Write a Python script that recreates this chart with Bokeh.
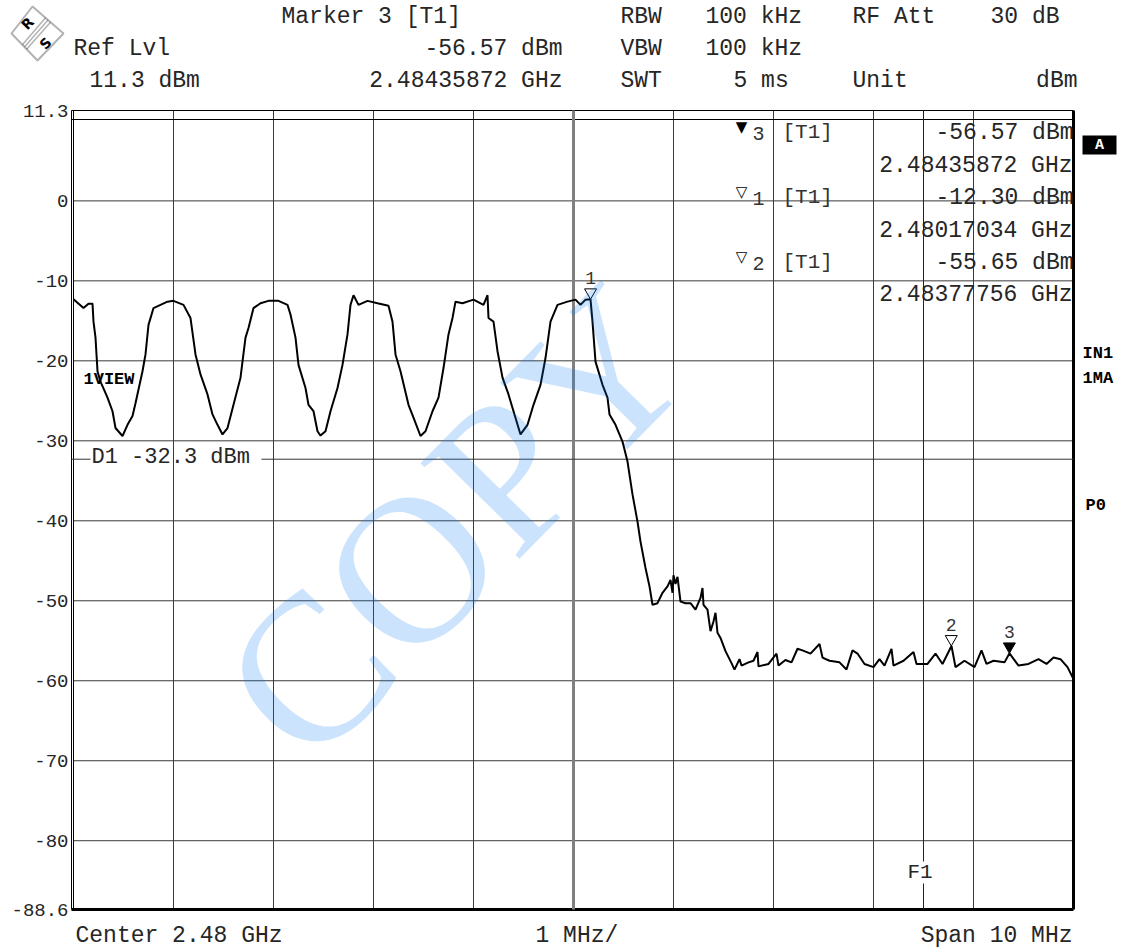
import math
from bokeh.plotting import figure
from bokeh.models import Range1d, FixedTicker, Label, BoxAnnotation, PolyAnnotation
from bokeh.embed import file_html
from bokeh.resources import INLINE

# ---------------- data ----------------
trace_freq_mhz = [
    2475.00, 2475.10, 2475.15, 2475.19, 2475.20, 2475.22, 2475.24, 2475.27, 2475.34, 2475.39,
    2475.42, 2475.49, 2475.54, 2475.59, 2475.62, 2475.69, 2475.72, 2475.75, 2475.80, 2475.87,
    2475.94, 2476.00, 2476.10, 2476.17, 2476.22, 2476.27, 2476.34, 2476.39, 2476.44, 2476.49,
    2476.54, 2476.60, 2476.67, 2476.72, 2476.75, 2476.80, 2476.87, 2476.95, 2477.05, 2477.14,
    2477.17, 2477.22, 2477.25, 2477.32, 2477.35, 2477.40, 2477.44, 2477.47, 2477.52, 2477.57,
    2477.64, 2477.69, 2477.74, 2477.77, 2477.80, 2477.85, 2477.94, 2478.04, 2478.15, 2478.19,
    2478.22, 2478.27, 2478.35, 2478.40, 2478.47, 2478.52, 2478.59, 2478.65, 2478.70, 2478.75,
    2478.79, 2478.82, 2478.89, 2479.00, 2479.10, 2479.14, 2479.15, 2479.20, 2479.24, 2479.29,
    2479.35, 2479.40, 2479.47, 2479.54, 2479.60, 2479.67, 2479.72, 2479.77, 2479.84, 2479.94,
    2480.02, 2480.07, 2480.12, 2480.17, 2480.19, 2480.22, 2480.29, 2480.34, 2480.36, 2480.42,
    2480.49, 2480.54, 2480.59, 2480.64, 2480.67, 2480.72, 2480.76, 2480.79, 2480.84, 2480.89,
    2480.94, 2480.97, 2480.99, 2481.00, 2481.02, 2481.04, 2481.07, 2481.12, 2481.17, 2481.22,
    2481.27, 2481.29, 2481.30, 2481.34, 2481.37, 2481.40, 2481.42, 2481.44, 2481.47, 2481.52,
    2481.58, 2481.61, 2481.66, 2481.68, 2481.75, 2481.80, 2481.84, 2481.85, 2481.95, 2482.03,
    2482.05, 2482.12, 2482.18, 2482.24, 2482.29, 2482.37, 2482.46, 2482.49, 2482.56, 2482.66,
    2482.73, 2482.79, 2482.84, 2482.91, 2483.00, 2483.06, 2483.11, 2483.18, 2483.20, 2483.30,
    2483.40, 2483.43, 2483.54, 2483.62, 2483.69, 2483.78, 2483.82, 2483.91, 2484.01, 2484.08,
    2484.13, 2484.20, 2484.31, 2484.36, 2484.45, 2484.55, 2484.65, 2484.73, 2484.80, 2484.87,
    2484.94, 2485.00,
]
trace_level_dbm = [
    -12.3, -13.4, -12.85, -12.85, -15.1, -17.1, -21.3, -22.6, -24.6, -26.3,
    -28.4, -29.4, -28.0, -26.9, -25.3, -21.3, -19.2, -15.5, -13.4, -13.0,
    -12.6, -12.5, -13.0, -14.65, -19.2, -21.7, -24.2, -26.7, -28.0, -29.2,
    -28.4, -25.5, -22.1, -17.1, -15.9, -13.4, -12.8, -12.5, -12.5, -13.0,
    -14.2, -17.1, -20.5, -23.4, -25.5, -26.3, -28.8, -29.35, -28.8, -26.3,
    -23.4, -20.5, -16.7, -13.0, -11.8, -13.0, -12.5, -12.8, -13.1, -15.1,
    -19.2, -21.3, -25.5, -27.1, -29.4, -28.8, -26.3, -24.6, -20.9, -16.7,
    -14.65, -12.6, -12.8, -12.35, -13.0, -11.8, -14.65, -15.1, -18.8, -22.1,
    -24.2, -26.3, -29.2, -28.0, -25.5, -23.0, -19.65, -15.1, -13.0, -12.6,
    -12.35, -13.0, -12.35, -12.3, -15.1, -20.1, -23.0, -24.6, -26.7, -28.0,
    -30.1, -32.6, -36.7, -40.1, -42.6, -45.9, -48.2, -50.5, -50.3, -49.0,
    -48.2, -47.4, -49.0, -46.8, -47.9, -47.0, -50.1, -50.3, -50.3, -51.1,
    -49.65, -48.4, -50.5, -51.1, -53.8, -52.6, -51.5, -54.0, -54.65, -56.3,
    -57.8, -58.6, -57.3, -58.1, -57.7, -57.5, -56.4, -58.2, -57.9, -56.6,
    -58.1, -57.4, -57.7, -56.0, -56.2, -56.6, -55.4, -57.1, -57.5, -57.7,
    -58.6, -56.2, -56.6, -57.9, -58.3, -57.3, -58.1, -56.0, -58.1, -57.5,
    -56.4, -57.9, -57.9, -56.6, -57.9, -55.65, -58.3, -57.5, -58.3, -56.2,
    -57.9, -57.5, -57.7, -56.57, -58.1, -57.9, -57.3, -57.9, -57.1, -57.3,
    -58.3, -59.8,
]
marker_ids = [1, 2, 3]
marker_freq_ghz = [2.48017034, 2.48377756, 2.48435872]
marker_level_dbm = [-12.30, -55.65, -56.57]
marker_filled = [False, False, True]
marker_table_order = [3, 1, 2]

y_ticks = [11.3, 0, -10, -20, -30, -40, -50, -60, -70, -80, -88.6]
y_tick_labels = ["11.3", "0", "-10", "-20", "-30", "-40", "-50", "-60", "-70", "-80", "-88.6"]
y_grid_dbm = [0, -10, -20, -30, -40, -50, -60, -70, -80]
x_grid_mhz = [2476, 2477, 2478, 2479, 2480, 2481, 2482, 2483, 2484]

ref_level_dbm = 11.3
bottom_level_dbm = -88.6
start_mhz, stop_mhz = 2475.0, 2485.0
center_ghz = 2.48
span_mhz = 10
div_mhz = 1
display_line_dbm = -32.3
freq_line_mhz = 2483.5
rbw_khz, vbw_khz, swt_ms, rf_att_db = 100, 100, 5, 30

# ---------------- pixel <-> data helpers (for text placement) ----------------
W, H = 1128, 952
FL, FR, FT, FB = 71, 1073, 110, 909          # graticule box in pixels
X0, X1 = start_mhz - 0.02, stop_mhz           # graticule box in data units
Y0, Y1 = bottom_level_dbm, ref_level_dbm
PX_PER_MHZ = (FR - FL) / (X1 - X0)
PX_PER_DB = (FB - FT) / (Y1 - Y0)


def dx(px):
    return X0 + (px - FL) / PX_PER_MHZ


def dy(py):
    return Y1 - (py - FT) / PX_PER_DB


MONO = "Liberation Mono"
INK = "#262626"

# the plotting frame covers the whole page so that the header texts are not clipped
p = figure(width=W, height=H, output_backend="svg", toolbar_location=None,
           x_range=Range1d(dx(0), dx(W)), y_range=Range1d(dy(H), dy(0)),
           min_border_left=0, min_border_right=0, min_border_top=0, min_border_bottom=0,
           title=None)
p.background_fill_color = "white"
p.border_fill_color = "white"
p.outline_line_color = None
p.xaxis.visible = False
p.grid.grid_line_color = None

yax = p.yaxis[0]
yax.fixed_location = X0
yax.ticker = FixedTicker(ticks=y_ticks)
yax.major_label_overrides = {t: l for t, l in zip(y_ticks, y_tick_labels)}
yax.axis_line_color = None
yax.major_tick_line_color = None
yax.minor_tick_line_color = None
yax.major_tick_out = 0
yax.major_tick_in = 0
yax.major_label_standoff = 3
yax.major_label_text_font = MONO
yax.major_label_text_font_size = "19px"
yax.major_label_text_color = INK

# graticule
GRID = "#3a3a3a"
p.segment(x0=x_grid_mhz, y0=[Y0] * len(x_grid_mhz), x1=x_grid_mhz, y1=[Y1] * len(x_grid_mhz),
          line_color=GRID, line_width=1)
p.segment(x0=[start_mhz] * len(y_grid_dbm), y0=y_grid_dbm, x1=[X1] * len(y_grid_dbm), y1=y_grid_dbm,
          line_color=GRID, line_width=1)
# frame
p.segment(x0=[X0, start_mhz, X0, X0], y0=[Y0, Y0, Y1, dy(119)],
          x1=[X0, start_mhz, X1, X1], y1=[Y1, Y1, Y1, dy(119)], line_color="black", line_width=1)
p.segment(x0=[X1, X0], y0=[Y0, Y0], x1=[X1, X1], y1=[Y1, Y0], line_color="black", line_width=3)
# center frequency (thick grey) and frequency line F1
p.segment(x0=[center_ghz * 1000], y0=[Y0], x1=[center_ghz * 1000], y1=[Y1],
          line_color="#808080", line_width=3)
p.segment(x0=[freq_line_mhz, freq_line_mhz], y0=[Y1, dy(883)], x1=[freq_line_mhz, freq_line_mhz],
          y1=[dy(861), Y0], line_color="#222222", line_width=1)
# display line D1 with a gap for its label
p.segment(x0=[X0, dx(261)], y0=[display_line_dbm] * 2, x1=[dx(90), X1], y1=[display_line_dbm] * 2,
          line_color="#333333", line_width=1)

# trace
p.line(trace_freq_mhz, trace_level_dbm, line_color="black", line_width=2)

# markers on the trace (tip of the triangle at the marker level)
TRI = 12
tip_off_db = (TRI / 2) * math.sqrt(3) * 2 / 3 / PX_PER_DB
mk_x = [f * 1000 for f in marker_freq_ghz]
p.scatter(mk_x, [l + tip_off_db for l in marker_level_dbm], marker="inverted_triangle", size=TRI,
          line_color="black", line_width=1,
          fill_color=["black" if f else "white" for f in marker_filled])
for mid, mx, ml in zip(marker_ids, mk_x, marker_level_dbm):
    p.add_layout(Label(x=mx, y=ml + 21 / PX_PER_DB, text=str(mid), text_font=MONO,
                       text_font_size="18px", text_align="center", text_baseline="middle",
                       text_color="#333333"))


def lab(px, py, text, size="23px", align="left", bold=False, color=INK, font=MONO, **kw):
    p.add_layout(Label(x=dx(px), y=dy(py), text=text, text_font=font, text_font_size=size,
                       text_align=align, text_baseline="middle", text_color=color,
                       text_font_style="bold" if bold else "normal", **kw))


# header
m3 = marker_ids.index(3)
lab(281, 16, f"Marker {marker_ids[m3]} [T1]")
lab(620, 16, "RBW")
lab(705, 16, f"{rbw_khz} kHz")
lab(852, 16, "RF Att")
lab(990, 16, f"{rf_att_db} dB")
lab(73, 48, "Ref Lvl")
lab(562, 48, f"{marker_level_dbm[m3]:.2f} dBm", align="right")
lab(620, 48, "VBW")
lab(705, 48, f"{vbw_khz} kHz")
lab(89, 80, f"{ref_level_dbm} dBm")
lab(562, 80, f"{marker_freq_ghz[m3]:.8f} GHz", align="right")
lab(620, 80, "SWT")
lab(733, 80, f"{swt_ms} ms")
lab(852, 80, "Unit")
lab(1077, 80, "dBm", align="right")

# footer
lab(75, 935, f"Center {center_ghz} GHz")
lab(535, 935, f"{div_mhz} MHz/")
lab(1072, 935, f"Span {span_mhz} MHz", align="right")

# marker table inside the graticule
row_y = [132, 165, 197, 230, 262, 294]
for i, mid in enumerate(marker_table_order):
    k = marker_ids.index(mid)
    y1, y2 = row_y[2 * i], row_y[2 * i + 1]
    lab(741, y1 - 6, "\u25BC" if marker_filled[k] else "\u25BD", size="15px", align="center",
        font="DejaVu Sans", color="black")
    lab(752, y1 + 1, str(mid), size="20px", color="#333333")
    lab(782, y1, "[T1]", size="21px", color="#333333")
    lab(1073, y1, f"{marker_level_dbm[k]:.2f} dBm", align="right", color="#262626")
    lab(1072, y2, f"{marker_freq_ghz[k]:.8f} GHz", align="right", color="#262626")

# in-graticule annotations
lab(83, 379, "1VIEW", size="17px", bold=True, color="black")
lab(91, 457, f"D1 {display_line_dbm} dBm", size="22px", color="#262626")
lab(907, 872, "F1", size="21px", color="#262626")

# right side annotations
p.add_layout(BoxAnnotation(left=dx(1082), right=dx(1116), top=dy(135), bottom=dy(154),
                           fill_color="black", fill_alpha=1, line_color=None))
lab(1099, 145, "A", size="15px", bold=True, color="white", align="center")
lab(1082, 353, "IN1", size="17px", bold=True, color="black")
lab(1082, 378, "1MA", size="17px", bold=True, color="black")
lab(1085, 505, "P0", size="17px", bold=True, color="black")

# logo (diamond with stripes)
p.add_layout(PolyAnnotation(xs=[dx(11), dx(32), dx(63), dx(37)], ys=[dy(33), dy(6), dy(33), dy(60)],
                            fill_color="white", fill_alpha=1, line_color="black", line_width=2))
L, B, T, R = (11, 33), (37, 60), (32, 6), (63, 33)
for t in (0.42, 0.5, 0.58):
    ax_, ay_ = L[0] + t * (B[0] - L[0]), L[1] + t * (B[1] - L[1])
    bx_, by_ = T[0] + t * (R[0] - T[0]), T[1] + t * (R[1] - T[1])
    p.add_layout(PolyAnnotation(xs=[dx(ax_), dx(bx_)], ys=[dy(ay_), dy(by_)],
                                fill_alpha=0, line_color="black", line_width=1.5))
lab(27, 23, "R", size="14px", bold=True, align="center", font="DejaVu Sans", color="black",
    angle=45, angle_units="deg")
lab(45, 43, "S", size="14px", bold=True, align="center", font="DejaVu Sans", color="black",
    angle=45, angle_units="deg")

# watermark
p.add_layout(Label(x=dx(455), y=dy(522), text="COPY", text_font="Liberation Serif",
                   text_font_size="210px", angle=45.5, angle_units="deg", text_align="center",
                   text_baseline="middle", text_color="#0a7cf0", text_alpha=0.21))

open("out.html", "w").write(file_html(p, INLINE))
